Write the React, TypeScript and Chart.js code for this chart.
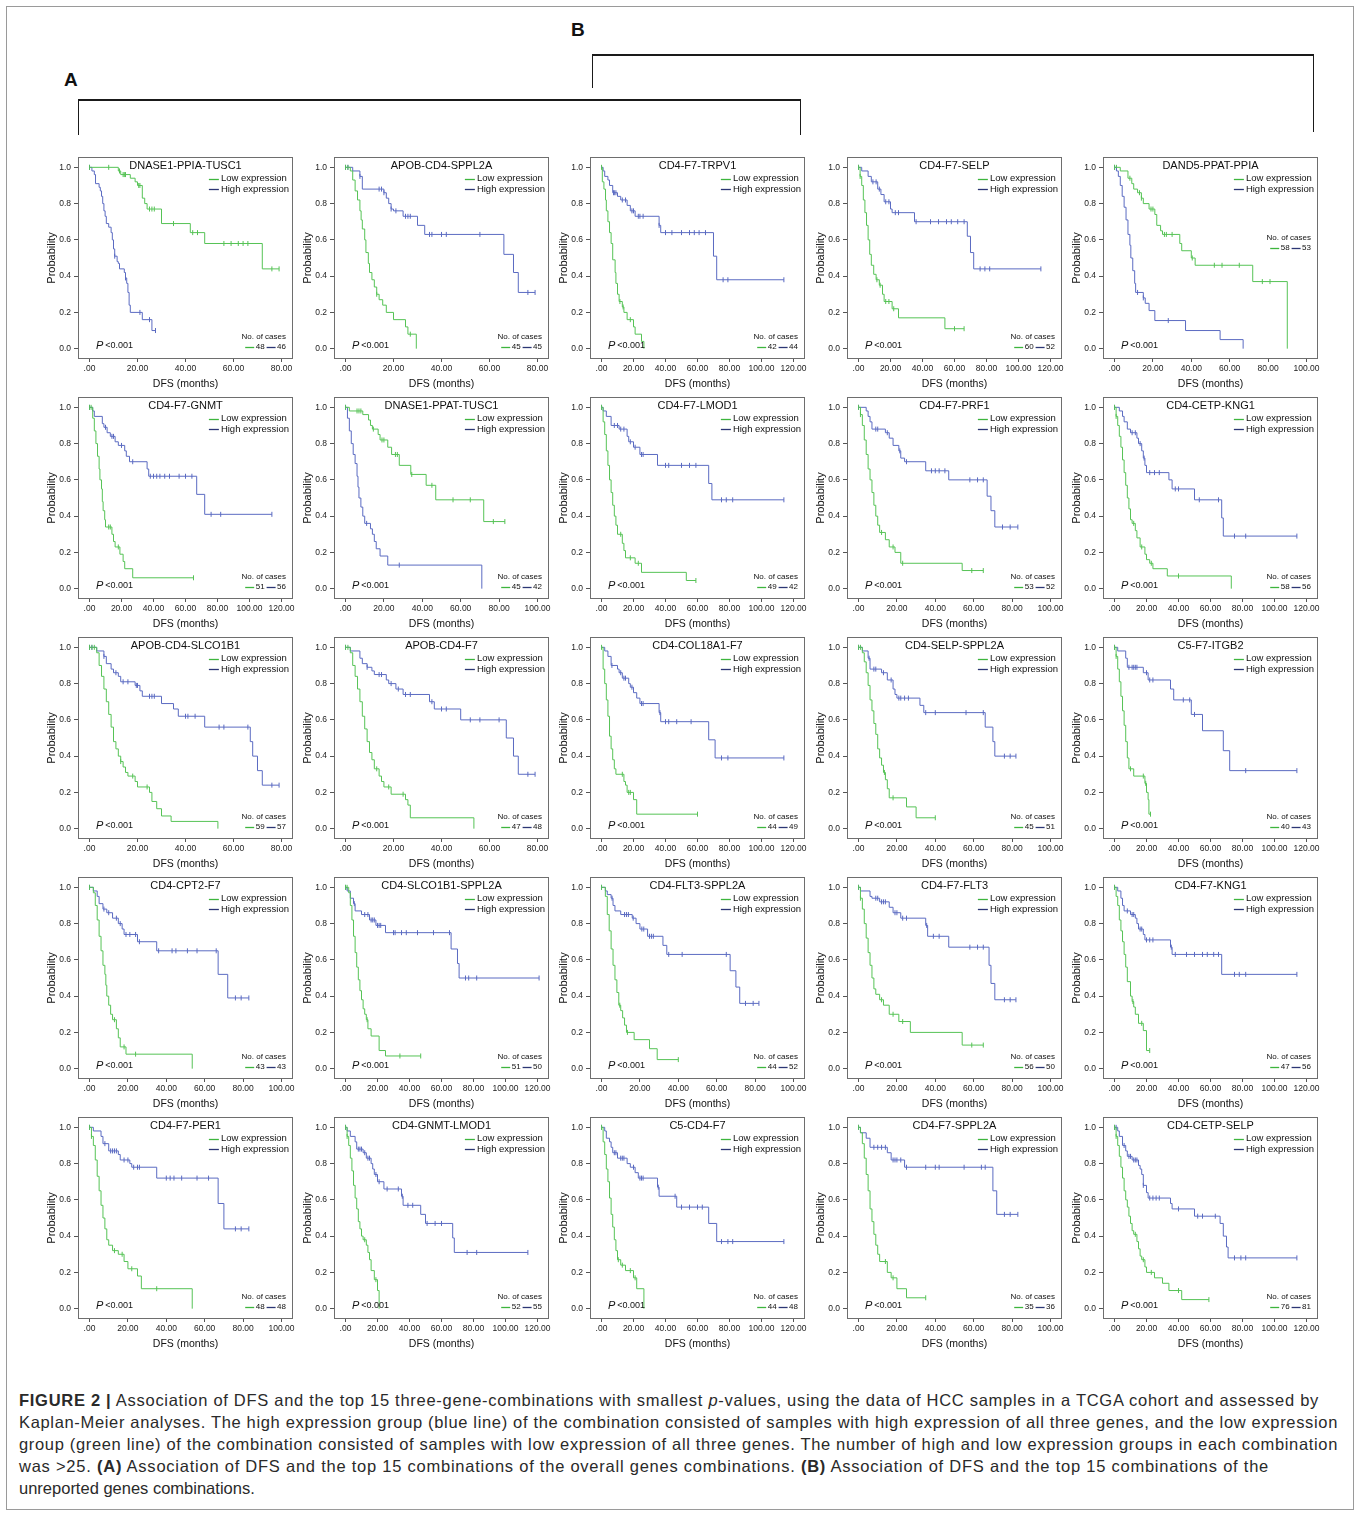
import React, { useEffect, useLayoutEffect, useRef } from 'react';
import { Chart, registerables } from 'chart.js';

Chart.register(...registerables);

const FONT = '"Liberation Sans", Arial, Helvetica, sans-serif';
const GREEN = '#56c356';
const BLUE = '#5b6bc2';
const GREEN_KEY = '#3db53d';
const BLUE_KEY = '#2c3674';

// ---------- panel meta data ----------
const titles = [
  'DNASE1-PPIA-TUSC1', 'APOB-CD4-SPPL2A', 'CD4-F7-TRPV1', 'CD4-F7-SELP', 'DAND5-PPAT-PPIA',
  'CD4-F7-GNMT', 'DNASE1-PPAT-TUSC1', 'CD4-F7-LMOD1', 'CD4-F7-PRF1', 'CD4-CETP-KNG1',
  'APOB-CD4-SLCO1B1', 'APOB-CD4-F7', 'CD4-COL18A1-F7', 'CD4-SELP-SPPL2A', 'C5-F7-ITGB2',
  'CD4-CPT2-F7', 'CD4-SLCO1B1-SPPL2A', 'CD4-FLT3-SPPL2A', 'CD4-F7-FLT3', 'CD4-F7-KNG1',
  'CD4-F7-PER1', 'CD4-GNMT-LMOD1', 'C5-CD4-F7', 'CD4-F7-SPPL2A', 'CD4-CETP-SELP',
];
const xAxisMax = [
  80, 80, 120, 120, 100,
  120, 100, 120, 100, 120,
  80, 80, 120, 100, 120,
  100, 120, 100, 100, 120,
  100, 120, 120, 100, 120,
];
const lowCases = [48, 45, 42, 60, 58, 51, 45, 49, 53, 58, 59, 47, 44, 45, 40, 43, 51, 44, 56, 47, 48, 52, 44, 35, 76];
const highCases = [46, 45, 44, 52, 53, 56, 42, 42, 52, 56, 57, 48, 49, 51, 43, 43, 50, 52, 50, 56, 48, 55, 48, 36, 81];
const casesMidPanels = [4];
const yTickValues = [0, 0.2, 0.4, 0.6, 0.8, 1.0];
const xTickStep = 20;

// ---------- survival curves: [time, survival after event], censor times ----------
const p1Low = [[12, 0.98], [13, 0.96], [17, 0.94], [19, 0.92], [20, 0.9], [22, 0.83], [23, 0.8], [24, 0.77], [30, 0.69], [42, 0.64], [48, 0.58], [72, 0.44]];
const p1LowC = [0, 8, 12.5, 14, 14.5, 15, 20.5, 21, 25, 26, 27, 35, 43, 45, 56, 59, 62, 64, 66, 76, 79];
const p1High = [[1, 0.98], [2, 0.96], [2.5, 0.91], [4, 0.89], [4.5, 0.87], [5, 0.84], [5.5, 0.8], [6, 0.76], [6.5, 0.73], [7, 0.69], [8, 0.67], [9, 0.64], [9.5, 0.6], [10, 0.55], [10.5, 0.51], [11.5, 0.48], [12, 0.47], [12.5, 0.44], [14.5, 0.42], [15, 0.39], [15.5, 0.36], [16, 0.31], [16.5, 0.24], [17, 0.2], [22, 0.16], [26, 0.1]];
const p1HighC = [0, 10.5, 15, 21, 25, 27.5];

const p2Low = [[2, 0.98], [3, 0.93], [4, 0.87], [5, 0.82], [6, 0.76], [6.5, 0.71], [7, 0.66], [8, 0.6], [8.5, 0.53], [9.5, 0.47], [10, 0.42], [11, 0.38], [12, 0.34], [13, 0.3], [14, 0.27], [15.5, 0.24], [17, 0.2], [20, 0.16], [25, 0.12], [26, 0.08], [29.5, 0]];
const p2LowC = [0, 1, 13, 27];
const p2High = [[3, 0.98], [6, 0.95], [7, 0.88], [16, 0.86], [17, 0.83], [18, 0.8], [19, 0.77], [20, 0.76], [24, 0.73], [30, 0.68], [33, 0.63], [66, 0.52], [70, 0.42], [72, 0.31]];
const p2HighC = [0, 1, 6, 14, 15, 16, 19, 21, 25, 26, 27, 35, 36, 40, 42, 56, 76, 79];

const p3Low = [[0.5, 0.92], [1.5, 0.88], [2.5, 0.82], [3, 0.76], [4, 0.7], [5, 0.64], [6, 0.58], [7, 0.49], [8.5, 0.42], [9, 0.36], [10, 0.3], [11, 0.26], [13, 0.23], [14, 0.2], [16, 0.16], [20, 0.12], [21, 0.08], [25, 0.04], [26.5, 0]];
const p3LowC = [0, 11.5, 13.5, 18];
const p3High = [[1, 0.98], [2, 0.95], [4, 0.93], [5, 0.9], [7, 0.86], [10, 0.84], [12, 0.82], [16, 0.79], [18, 0.76], [21, 0.73], [36, 0.68], [37, 0.64], [70, 0.51], [72, 0.38]];
const p3HighC = [7.5, 8, 9, 13, 15, 19, 20, 23, 24, 26, 36, 40, 44, 50, 55, 58, 61, 65, 76, 79, 114];

const p4Low = [[1, 0.95], [2, 0.9], [3, 0.82], [4, 0.75], [5, 0.68], [6, 0.6], [7, 0.52], [8, 0.46], [9.5, 0.41], [11, 0.38], [13, 0.35], [15, 0.3], [16, 0.26], [21, 0.22], [25, 0.17], [54, 0.11]];
const p4LowC = [0, 1, 11.5, 13.5, 17, 19, 22, 60, 66];
const p4High = [[2, 0.98], [6, 0.95], [8, 0.92], [12, 0.88], [14, 0.85], [16, 0.81], [20, 0.77], [21, 0.75], [35, 0.7], [68, 0.62], [70, 0.53], [72, 0.44]];
const p4HighC = [0, 9, 11, 13, 17, 19, 23, 25, 36, 45, 50, 55, 58, 62, 66, 76, 79, 82, 114];

const p5Low = [[3, 0.98], [7, 0.94], [9, 0.91], [10, 0.88], [12, 0.86], [14, 0.83], [15, 0.8], [18, 0.77], [21, 0.74], [22, 0.68], [24, 0.65], [25, 0.63], [34, 0.58], [35, 0.54], [40, 0.5], [42, 0.46], [72, 0.37], [90, 0]];
const p5LowC = [0, 1, 8, 13, 14, 19, 20, 26, 27, 30, 40.5, 52, 56, 65, 77, 81];
const p5High = [[1, 0.98], [2, 0.95], [3, 0.9], [4, 0.84], [5, 0.78], [6, 0.71], [7, 0.63], [8, 0.57], [8.5, 0.5], [9.5, 0.43], [10.5, 0.36], [11, 0.31], [15, 0.28], [16, 0.25], [18, 0.21], [21, 0.155], [37, 0.1], [55, 0.05], [67, 0]];
const p5HighC = [0, 12, 15, 28];

const p6Low = [[2, 0.94], [3, 0.87], [4, 0.8], [5, 0.73], [6, 0.66], [6.5, 0.6], [7.5, 0.55], [8, 0.48], [8.5, 0.43], [9.5, 0.38], [10, 0.34], [14, 0.3], [15, 0.26], [16, 0.23], [19, 0.19], [21, 0.15], [22, 0.11], [27, 0.06]];
const p6LowC = [0, 1, 12, 13, 18, 65];
const p6High = [[2, 0.98], [3, 0.95], [8, 0.91], [9, 0.89], [11, 0.86], [13, 0.84], [16, 0.81], [18, 0.79], [22, 0.76], [23, 0.73], [25, 0.7], [36, 0.66], [37, 0.62], [67, 0.52], [72, 0.41]];
const p6HighC = [0, 10, 14, 15, 20, 27, 38, 40, 42, 44, 47, 50, 56, 60, 64, 76, 82, 114];

const p7Low = [[2, 0.98], [9, 0.96], [12, 0.93], [13, 0.9], [14, 0.88], [17, 0.85], [18, 0.82], [22, 0.78], [24, 0.74], [28, 0.68], [34, 0.63], [42, 0.57], [47, 0.49], [72, 0.37]];
const p7LowC = [0, 6, 7, 8, 14.5, 19, 20, 26, 27, 34.5, 45, 56, 65, 77, 83];
const p7High = [[1, 0.94], [2, 0.87], [3, 0.8], [4, 0.74], [5, 0.69], [6, 0.62], [6.5, 0.56], [7, 0.5], [8, 0.45], [9, 0.4], [10, 0.36], [13, 0.33], [14, 0.3], [15, 0.26], [16, 0.22], [18, 0.18], [22, 0.13], [71, 0]];
const p7HighC = [0, 11, 28];

const p8Low = [[1, 0.92], [2, 0.85], [3, 0.76], [4, 0.68], [5, 0.6], [6, 0.53], [7, 0.46], [8, 0.4], [9, 0.35], [10, 0.3], [13, 0.25], [14, 0.21], [15, 0.17], [21, 0.14], [25, 0.09], [53, 0.045]];
const p8LowC = [0, 12, 18, 23, 59];
const p8High = [[1, 0.98], [3, 0.95], [6, 0.9], [11, 0.88], [16, 0.84], [17, 0.81], [20, 0.78], [24, 0.74], [35, 0.68], [67, 0.58], [69, 0.49]];
const p8HighC = [0, 8, 10, 12, 14, 18, 21, 25, 26, 40, 42, 50, 55, 59, 75, 78, 82, 114];

const p9Low = [[1, 0.96], [2, 0.9], [3, 0.82], [4, 0.74], [5, 0.66], [6, 0.6], [7, 0.53], [8, 0.46], [9, 0.4], [10, 0.35], [11, 0.31], [14, 0.27], [16, 0.23], [19, 0.2], [22, 0.14], [54, 0.1]];
const p9LowC = [0, 1, 12, 18, 23, 59, 65];
const p9High = [[4, 0.98], [5, 0.95], [6, 0.92], [7, 0.88], [14, 0.86], [16, 0.83], [18, 0.79], [21, 0.76], [22, 0.72], [24, 0.7], [35, 0.65], [47, 0.6], [67, 0.51], [69, 0.43], [71, 0.34]];
const p9HighC = [0, 9, 10, 15, 21.5, 25, 38, 40, 42, 45, 58, 62, 65, 75, 79, 83];

const p10Low = [[1, 0.95], [2, 0.9], [3, 0.84], [4, 0.78], [5, 0.71], [6, 0.64], [7, 0.57], [8, 0.5], [9, 0.44], [10, 0.38], [11, 0.36], [13, 0.32], [14, 0.28], [16, 0.23], [19, 0.19], [20, 0.16], [22, 0.14], [24, 0.11], [33, 0.07], [73, 0]];
const p10LowC = [0, 1, 12, 17, 23, 40];
const p10High = [[3, 0.98], [5, 0.95], [6, 0.92], [8, 0.88], [10, 0.86], [14, 0.83], [15, 0.8], [17, 0.76], [18, 0.72], [19, 0.68], [20, 0.64], [34, 0.6], [36, 0.55], [50, 0.49], [67, 0.39], [68, 0.29]];
const p10HighC = [0, 11, 13, 16, 18.5, 22, 25, 28, 38, 40, 53, 65, 75, 82, 114];

const p11Low = [[3, 0.97], [4, 0.9], [5, 0.84], [6, 0.77], [7, 0.7], [8, 0.63], [9, 0.56], [10, 0.48], [11, 0.44], [12, 0.4], [13, 0.37], [14, 0.34], [15, 0.31], [16, 0.29], [19, 0.26], [20, 0.23], [25, 0.2], [26, 0.15], [28, 0.11], [30, 0.07], [34, 0.04], [53.5, 0]];
const p11LowC = [0, 1, 2, 13, 18, 24];
const p11High = [[3, 0.98], [6, 0.95], [7, 0.91], [9, 0.88], [10, 0.86], [12, 0.84], [13, 0.81], [19, 0.79], [21, 0.76], [22, 0.73], [30, 0.69], [35, 0.66], [37, 0.62], [48, 0.56], [67, 0.48], [68, 0.4], [70, 0.32], [72, 0.24]];
const p11HighC = [0, 1, 6, 11, 14, 16, 19.5, 20, 25, 26, 27, 40, 41, 44, 54, 56, 66, 76, 79];

const p12Low = [[2, 0.97], [3, 0.9], [4, 0.84], [5, 0.77], [6, 0.7], [7, 0.62], [8, 0.55], [9, 0.48], [10, 0.42], [11, 0.38], [12, 0.33], [14, 0.29], [15, 0.26], [16, 0.23], [19, 0.19], [25, 0.16], [26, 0.13], [27, 0.06], [53.5, 0]];
const p12LowC = [0, 1, 13, 18, 24];
const p12High = [[2, 0.98], [6, 0.94], [7, 0.91], [9, 0.89], [11, 0.87], [12, 0.85], [17, 0.82], [18, 0.8], [21, 0.77], [24, 0.74], [35, 0.7], [37, 0.66], [48, 0.6], [67, 0.5], [70, 0.4], [72, 0.3]];
const p12HighC = [0, 9, 14, 15, 19, 22, 25, 27, 36, 40, 42, 52, 56, 64, 76, 79];

const p13Low = [[1, 0.88], [2, 0.8], [3, 0.71], [4, 0.62], [5, 0.51], [6, 0.44], [7, 0.38], [8, 0.33], [9, 0.3], [14, 0.26], [15, 0.24], [16, 0.2], [20, 0.16], [22, 0.08]];
const p13LowC = [0, 13, 17, 18, 60];
const p13High = [[2, 0.98], [4, 0.95], [6, 0.9], [10, 0.88], [11, 0.86], [13, 0.83], [17, 0.8], [18, 0.78], [20, 0.75], [22, 0.72], [24, 0.69], [36, 0.64], [37, 0.59], [67, 0.49], [71, 0.39]];
const p13HighC = [6.5, 12, 14, 15, 19, 25, 26, 36.5, 40, 42, 47, 56, 75, 79, 114];

const p14Low = [[2, 0.97], [3, 0.92], [4, 0.86], [5, 0.79], [6, 0.71], [7, 0.65], [8, 0.58], [9, 0.52], [10, 0.44], [11, 0.39], [12, 0.35], [13, 0.31], [14, 0.27], [15, 0.22], [16, 0.17], [25, 0.12], [30, 0.06]];
const p14LowC = [0, 1, 13.5, 18, 40];
const p14High = [[2, 0.98], [5, 0.94], [6, 0.88], [12, 0.86], [15, 0.82], [18, 0.77], [19, 0.74], [20, 0.72], [32, 0.68], [34, 0.64], [66, 0.56], [70, 0.48], [71, 0.4]];
const p14HighC = [0, 5.5, 8, 9, 13, 17, 21, 22, 24, 26, 35, 40, 56, 65, 76, 79, 82];

const p15Low = [[1, 0.95], [2, 0.88], [3, 0.81], [4, 0.73], [5, 0.65], [6, 0.57], [7, 0.48], [8, 0.39], [9, 0.33], [12, 0.29], [19, 0.25], [20, 0.2], [21, 0.16], [21.5, 0.08]];
const p15LowC = [0, 1, 10, 18, 19.5, 22.5];
const p15High = [[2, 0.98], [7, 0.94], [8, 0.89], [18, 0.86], [21, 0.82], [35, 0.77], [37, 0.71], [48, 0.63], [55, 0.54], [68, 0.43], [72, 0.32]];
const p15HighC = [0, 9, 11, 12, 13, 14, 20, 22, 24, 43, 47, 50, 82, 114];

const p16Low = [[2, 0.97], [3, 0.9], [4, 0.82], [5, 0.73], [6, 0.65], [7, 0.57], [8, 0.52], [8.5, 0.46], [9, 0.4], [10, 0.35], [11, 0.3], [12, 0.27], [14, 0.22], [15, 0.17], [16, 0.12], [19, 0.08], [53.5, 0]];
const p16LowC = [0, 13, 18, 24];
const p16High = [[2, 0.98], [4, 0.95], [5, 0.91], [7, 0.88], [9, 0.86], [12, 0.83], [15, 0.8], [17, 0.77], [18, 0.74], [25, 0.7], [35, 0.65], [67, 0.52], [72, 0.39]];
const p16HighC = [0, 7.5, 10, 14, 16, 19, 21, 24, 26, 36, 43, 45, 51, 56, 66, 76, 79, 83];

const p17Low = [[2, 0.97], [3, 0.9], [4, 0.82], [5, 0.73], [6, 0.64], [7, 0.56], [8, 0.49], [9, 0.43], [10, 0.38], [11, 0.33], [12, 0.3], [13, 0.27], [14, 0.22], [16, 0.18], [21, 0.1], [25, 0.07]];
const p17LowC = [0, 1, 13.5, 34, 47];
const p17High = [[1, 0.98], [3, 0.94], [5, 0.91], [6, 0.87], [10, 0.85], [15, 0.82], [19, 0.79], [25, 0.75], [66, 0.66], [70, 0.58], [71, 0.5]];
const p17HighC = [0, 5.5, 12, 14, 16, 17, 18, 20, 21, 22, 30, 31, 35, 38, 45, 55, 65, 75, 77, 82, 121];

const p18Low = [[2, 0.95], [3, 0.85], [4, 0.76], [5, 0.66], [6, 0.57], [7, 0.49], [8, 0.42], [9, 0.35], [10, 0.32], [11, 0.28], [12, 0.24], [13, 0.2], [17, 0.16], [25, 0.11], [29, 0.05]];
const p18LowC = [0, 9.5, 13.5, 40];
const p18High = [[2, 0.98], [3, 0.96], [5, 0.94], [6, 0.9], [7, 0.87], [10, 0.85], [16, 0.83], [18, 0.8], [20, 0.77], [24, 0.73], [32, 0.68], [34, 0.63], [67, 0.54], [70, 0.45], [72, 0.36]];
const p18HighC = [0, 5.5, 12, 13, 14, 16.5, 21, 22, 25, 26, 27, 35, 42, 65, 75, 79, 82];

const p19Low = [[1, 0.94], [2, 0.88], [3, 0.8], [4, 0.72], [5, 0.64], [6, 0.57], [7, 0.5], [8, 0.44], [9, 0.41], [11, 0.38], [13, 0.35], [16, 0.3], [21, 0.26], [27, 0.2], [54, 0.13]];
const p19LowC = [0, 1, 12, 18, 23, 59, 65];
const p19High = [[1, 0.98], [6, 0.95], [7, 0.94], [11, 0.92], [16, 0.89], [18, 0.86], [22, 0.83], [35, 0.79], [36, 0.73], [47, 0.67], [68, 0.57], [69, 0.47], [71, 0.38]];
const p19HighC = [0, 9, 10, 12, 13, 14, 19, 20, 23, 25, 35.5, 39, 42, 58, 62, 65, 76, 79, 82];

const p20Low = [[1, 0.95], [2, 0.9], [3, 0.82], [4, 0.76], [5, 0.7], [6, 0.63], [7, 0.56], [8, 0.48], [10, 0.4], [11, 0.37], [12, 0.34], [13, 0.3], [15, 0.25], [18, 0.21], [20, 0.1]];
const p20LowC = [0, 11.5, 17, 22];
const p20High = [[2, 0.98], [4, 0.94], [5, 0.9], [6, 0.87], [10, 0.85], [13, 0.83], [14, 0.8], [15, 0.77], [18, 0.74], [19, 0.71], [35, 0.67], [36, 0.63], [67, 0.52]];
const p20HighC = [0, 8, 11, 12, 16, 17, 20, 22, 24, 35.5, 38, 45, 50, 55, 58, 62, 65, 75, 78, 82, 114];

const p21Low = [[1, 0.95], [2, 0.9], [3, 0.82], [4, 0.73], [5, 0.65], [6, 0.57], [7, 0.5], [8, 0.44], [9, 0.38], [10, 0.35], [12, 0.32], [15, 0.3], [18, 0.26], [20, 0.22], [25, 0.18], [27, 0.11], [53.5, 0]];
const p21LowC = [0, 1, 13, 17, 22, 35];
const p21High = [[2, 0.98], [6, 0.95], [7, 0.91], [10, 0.87], [15, 0.85], [16, 0.82], [21, 0.8], [22, 0.78], [35, 0.72], [67, 0.58], [70, 0.44]];
const p21HighC = [0, 8, 11, 12, 13, 14, 18, 20, 23, 25, 26, 40, 42, 44, 48, 56, 62, 76, 79, 83];

const p22Low = [[1, 0.95], [2, 0.9], [3, 0.83], [4, 0.76], [5, 0.68], [6, 0.61], [7, 0.55], [8, 0.48], [9, 0.44], [10, 0.4], [11, 0.38], [13, 0.35], [14, 0.31], [15, 0.27], [16, 0.21], [18, 0.16], [20, 0.1], [21, 0]];
const p22LowC = [0, 1, 12, 19];
const p22High = [[1, 0.98], [3, 0.95], [6, 0.92], [7, 0.88], [11, 0.86], [13, 0.83], [16, 0.8], [17, 0.77], [18, 0.74], [20, 0.7], [24, 0.66], [35, 0.62], [36, 0.57], [47, 0.52], [50, 0.47], [67, 0.39], [68, 0.31]];
const p22HighC = [0, 8, 9, 10, 12, 14, 15, 19, 21, 26, 33, 35.5, 39, 42, 51, 56, 60, 76, 82, 114];

const p23Low = [[1, 0.92], [2, 0.85], [3, 0.77], [4, 0.7], [5, 0.61], [6, 0.52], [7, 0.45], [8, 0.38], [9, 0.32], [10, 0.27], [12, 0.24], [15, 0.21], [20, 0.17], [22, 0.11], [26.5, 0]];
const p23LowC = [0, 10.5, 13, 18, 21];
const p23High = [[2, 0.98], [3, 0.94], [5, 0.92], [6, 0.89], [7, 0.86], [10, 0.83], [16, 0.8], [18, 0.78], [21, 0.75], [23, 0.72], [35, 0.67], [36, 0.62], [47, 0.56], [67, 0.47], [72, 0.37]];
const p23HighC = [0, 8, 9, 12, 13, 14, 20, 24, 25, 26, 35.5, 46, 50, 55, 60, 63, 75, 79, 82, 114];

const p24Low = [[1, 0.97], [2, 0.91], [3, 0.83], [4, 0.74], [5, 0.65], [6, 0.55], [7, 0.48], [8, 0.41], [9, 0.35], [10, 0.3], [11, 0.26], [15, 0.2], [17, 0.17], [20, 0.11], [25, 0.06]];
const p24LowC = [0, 14, 18, 35];
const p24High = [[1, 0.97], [4, 0.94], [6, 0.89], [15, 0.86], [17, 0.82], [24, 0.78], [70, 0.65], [72, 0.52]];
const p24HighC = [0, 8, 10, 12, 14, 18, 19, 20, 22, 25, 35, 40, 42, 55, 64, 66, 76, 79, 83];

const p25Low = [[1, 0.95], [2, 0.9], [3, 0.84], [4, 0.78], [5, 0.72], [6, 0.65], [7, 0.6], [8, 0.56], [9, 0.51], [10, 0.47], [11, 0.43], [12, 0.41], [14, 0.37], [15, 0.33], [16, 0.29], [17, 0.27], [19, 0.23], [20, 0.2], [25, 0.17], [30, 0.14], [34, 0.1], [42, 0.05]];
const p25LowC = [0, 1, 13, 18, 23, 40, 59];
const p25High = [[2, 0.98], [3, 0.95], [5, 0.9], [7, 0.87], [8, 0.84], [11, 0.82], [15, 0.79], [16, 0.77], [17, 0.74], [18, 0.68], [20, 0.64], [21, 0.61], [35, 0.58], [36, 0.55], [50, 0.51], [66, 0.47], [68, 0.4], [70, 0.34], [71, 0.28]];
const p25HighC = [0, 1, 6, 9, 10, 12, 13, 14, 18, 22, 24, 26, 28, 40, 52, 55, 63, 75, 79, 82, 114];

const lowSteps = [p1Low, p2Low, p3Low, p4Low, p5Low, p6Low, p7Low, p8Low, p9Low, p10Low, p11Low, p12Low, p13Low, p14Low, p15Low, p16Low, p17Low, p18Low, p19Low, p20Low, p21Low, p22Low, p23Low, p24Low, p25Low];
const lowCensored = [p1LowC, p2LowC, p3LowC, p4LowC, p5LowC, p6LowC, p7LowC, p8LowC, p9LowC, p10LowC, p11LowC, p12LowC, p13LowC, p14LowC, p15LowC, p16LowC, p17LowC, p18LowC, p19LowC, p20LowC, p21LowC, p22LowC, p23LowC, p24LowC, p25LowC];
const highSteps = [p1High, p2High, p3High, p4High, p5High, p6High, p7High, p8High, p9High, p10High, p11High, p12High, p13High, p14High, p15High, p16High, p17High, p18High, p19High, p20High, p21High, p22High, p23High, p24High, p25High];
const highCensored = [p1HighC, p2HighC, p3HighC, p4HighC, p5HighC, p6HighC, p7HighC, p8HighC, p9HighC, p10HighC, p11HighC, p12HighC, p13HighC, p14HighC, p15HighC, p16HighC, p17HighC, p18HighC, p19HighC, p20HighC, p21HighC, p22HighC, p23HighC, p24HighC, p25HighC];

// ---------- layout ----------
const BOX_LEFT = [78, 334, 590, 847, 1103];
const BOX_TOP = [157, 397, 637, 877, 1117];
const BOX_W = 215;
const BOX_H = 202;
const PAD_L = 10;
const Y_AXIS_W = 46;
const PAD_R = 8;
const PAD_T = 2;
const X_AXIS_H = 16;
const PAD_B = 16;
const CW = PAD_L + Y_AXIS_W + BOX_W + PAD_R;
const CH = PAD_T + BOX_H + X_AXIS_H + PAD_B;

function survivalAt(steps: number[][], t: number) {
  let s = 1;
  for (const [tt, ss] of steps) if (tt <= t) s = ss;
  return s;
}
function curvePoints(steps: number[][], cens: number[]) {
  const pts = [{ x: 0, y: 1 }];
  steps.forEach(([t, s]) => pts.push({ x: t, y: s }));
  const lastT = steps.length ? steps[steps.length - 1][0] : 0;
  const lastC = cens.length ? Math.max(...cens) : 0;
  if (lastC > lastT) pts.push({ x: lastC, y: survivalAt(steps, lastC) });
  return pts;
}
function censorPoints(steps: number[][], cens: number[]) {
  return cens.map((t) => ({ x: t, y: survivalAt(steps, t) }));
}

function makeConfig(i: number): any {
  const xmax = xAxisMax[i];
  const xTicks: number[] = [];
  for (let v = 0; v <= xmax; v += xTickStep) xTicks.push(v);
  const mid = casesMidPanels.includes(i);

  const overlay = {
    id: 'kmOverlay',
    afterDraw(chart: any) {
      const { ctx, chartArea: a } = chart;
      ctx.save();
      // frame
      ctx.strokeStyle = '#6e6e6e';
      ctx.lineWidth = 1;
      ctx.strokeRect(Math.round(a.left) + 0.5, Math.round(a.top) + 0.5, Math.round(a.right - a.left) - 1, Math.round(a.bottom - a.top) - 1);
      const cx = (a.left + a.right) / 2;
      // title
      ctx.fillStyle = '#111';
      ctx.font = `11px ${FONT}`;
      ctx.textAlign = 'center';
      ctx.textBaseline = 'middle';
      ctx.fillText(titles[i], cx, a.top + 8.5);
      // legend
      ctx.font = `9.5px ${FONT}`;
      const hw = ctx.measureText('High expression').width;
      const tx = a.right - 4 - hw;
      const keys = [
        { label: 'Low expression', color: GREEN_KEY, y: a.top + 21.5 },
        { label: 'High expression', color: BLUE_KEY, y: a.top + 32 },
      ];
      keys.forEach((k) => {
        ctx.strokeStyle = k.color;
        ctx.lineWidth = 1.3;
        ctx.beginPath();
        ctx.moveTo(tx - 12, Math.round(k.y) + 0.5);
        ctx.lineTo(tx - 2, Math.round(k.y) + 0.5);
        ctx.stroke();
        ctx.textAlign = 'left';
        ctx.fillText(k.label, tx, k.y);
      });
      // p value
      const py = a.bottom - 13;
      ctx.font = `italic 11px ${FONT}`;
      ctx.textAlign = 'left';
      ctx.fillText('P', a.left + 18, py);
      const pw = ctx.measureText('P').width;
      ctx.font = `9px ${FONT}`;
      ctx.fillText('<0.001', a.left + 18 + pw + 2, py);
      // number of cases
      const y0 = mid ? a.top + 81 : a.bottom - 22;
      ctx.font = `8px ${FONT}`;
      ctx.textAlign = 'right';
      ctx.fillText('No. of cases', a.right - 7, y0);
      let x = a.right - 7;
      const y1 = y0 + 10;
      const hs = String(highCases[i]);
      const ls = String(lowCases[i]);
      ctx.fillText(hs, x, y1);
      x -= ctx.measureText(hs).width + 1.5;
      ctx.strokeStyle = BLUE_KEY;
      ctx.lineWidth = 1.3;
      ctx.beginPath();
      ctx.moveTo(x - 9, Math.round(y1) + 0.5);
      ctx.lineTo(x, Math.round(y1) + 0.5);
      ctx.stroke();
      x -= 11;
      ctx.fillText(ls, x, y1);
      x -= ctx.measureText(ls).width + 1.5;
      ctx.strokeStyle = GREEN_KEY;
      ctx.beginPath();
      ctx.moveTo(x - 9, Math.round(y1) + 0.5);
      ctx.lineTo(x, Math.round(y1) + 0.5);
      ctx.stroke();
      // axis titles
      ctx.fillStyle = '#111';
      ctx.font = `10.5px ${FONT}`;
      ctx.textAlign = 'center';
      ctx.fillText('DFS (months)', cx, a.bottom + 25);
      ctx.translate(a.left - 26, (a.top + a.bottom) / 2);
      ctx.rotate(-Math.PI / 2);
      ctx.font = `11px ${FONT}`;
      ctx.fillText('Probability', 0, 0);
      ctx.restore();
    },
  };

  const lineDs = (steps: number[][], cens: number[], color: string) => ({
    data: curvePoints(steps, cens),
    showLine: true,
    stepped: 'before',
    borderColor: color,
    borderWidth: 1,
    pointRadius: 0,
    pointHoverRadius: 0,
    fill: false,
  });
  const censDs = (steps: number[][], cens: number[], color: string) => ({
    data: censorPoints(steps, cens),
    showLine: false,
    pointStyle: 'line',
    pointRotation: 90,
    pointRadius: 2.5,
    pointHoverRadius: 2.5,
    pointBorderWidth: 1,
    pointBorderColor: color,
    pointBackgroundColor: color,
    borderColor: color,
  });

  const tickFont = { family: FONT, size: 8.5 };
  return {
    type: 'scatter',
    data: {
      datasets: [
        lineDs(lowSteps[i], lowCensored[i], GREEN),
        lineDs(highSteps[i], highCensored[i], BLUE),
        censDs(lowSteps[i], lowCensored[i], GREEN),
        censDs(highSteps[i], highCensored[i], BLUE),
      ],
    },
    options: {
      animation: false,
      responsive: false,
      devicePixelRatio: 1,
      events: [],
      layout: { autoPadding: false, padding: { left: PAD_L, top: PAD_T, right: PAD_R, bottom: PAD_B } },
      plugins: { legend: { display: false }, tooltip: { enabled: false }, title: { display: false } },
      scales: {
        x: {
          type: 'linear',
          min: -0.06 * xmax,
          max: 1.06 * xmax,
          afterBuildTicks: (s: any) => {
            s.ticks = xTicks.map((v) => ({ value: v }));
          },
          afterFit: (s: any) => {
            s.height = X_AXIS_H;
            s.paddingLeft = 0;
            s.paddingRight = 0;
            s.paddingTop = 0;
            s.paddingBottom = 0;
          },
          ticks: {
            autoSkip: false,
            maxRotation: 0,
            padding: 2,
            font: tickFont,
            color: '#222',
            callback: (v: number) => (v === 0 ? '.00' : Number(v).toFixed(2)),
          },
          grid: { drawOnChartArea: false, drawTicks: true, tickLength: 3, color: '#555' },
          border: { display: false },
        },
        y: {
          type: 'linear',
          min: -0.057,
          max: 1.057,
          afterBuildTicks: (s: any) => {
            s.ticks = yTickValues.map((v) => ({ value: v }));
          },
          afterFit: (s: any) => {
            s.width = Y_AXIS_W;
            s.paddingLeft = 0;
            s.paddingRight = 0;
            s.paddingTop = 0;
            s.paddingBottom = 0;
          },
          ticks: {
            padding: 3,
            font: tickFont,
            color: '#222',
            callback: (v: number) => Number(v).toFixed(1),
          },
          grid: { drawOnChartArea: false, drawTicks: true, tickLength: 4, color: '#555' },
          border: { display: false },
        },
      },
    },
    plugins: [overlay],
  };
}

function KMPanel({ index }: { index: number }) {
  const ref = useRef<HTMLCanvasElement>(null);
  useEffect(() => {
    const chart = new Chart(ref.current as HTMLCanvasElement, makeConfig(index));
    return () => chart.destroy();
  }, [index]);
  const col = index % 5;
  const row = Math.floor(index / 5);
  return (
    <canvas
      ref={ref}
      width={CW}
      height={CH}
      style={{
        position: 'absolute',
        left: BOX_LEFT[col] - PAD_L - Y_AXIS_W,
        top: BOX_TOP[row] - PAD_T,
        width: CW,
        height: CH,
      }}
    />
  );
}

function CaptionLine({ top, target, children }: { top: number; target: number | null; children: React.ReactNode }) {
  const ref = useRef<HTMLDivElement>(null);
  useLayoutEffect(() => {
    const el = ref.current;
    if (!el || target == null) return;
    el.style.letterSpacing = '0px';
    const natural = el.getBoundingClientRect().width;
    const n = (el.textContent || '').length;
    if (n > 1) el.style.letterSpacing = `${(target - natural) / n}px`;
  }, [target]);
  return (
    <div
      ref={ref}
      style={{
        position: 'absolute',
        left: 19,
        top,
        fontFamily: FONT,
        fontSize: 16.5,
        lineHeight: '22px',
        color: '#2a2a2a',
        whiteSpace: 'nowrap',
      }}
    >
      {children}
    </div>
  );
}

export default function App() {
  const bar = (l: number, t: number, w: number, h: number) => (
    <div style={{ position: 'absolute', left: l, top: t, width: w, height: h, background: '#1a1a1a' }} />
  );
  return (
    <div style={{ position: 'absolute', left: 0, top: 0, width: 1360, height: 1515, background: '#fff', overflow: 'hidden' }}>
      <div style={{ position: 'absolute', left: 6, top: 6, width: 1348, height: 1504, border: '1px solid #9a9a9a', boxSizing: 'border-box' }} />
      <div style={{ position: 'absolute', left: 64, top: 69, fontFamily: FONT, fontWeight: 'bold', fontSize: 19, lineHeight: '22px', color: '#111' }}>A</div>
      <div style={{ position: 'absolute', left: 571, top: 19, fontFamily: FONT, fontWeight: 'bold', fontSize: 19, lineHeight: '22px', color: '#111' }}>B</div>
      {bar(78, 99, 723, 2)}
      {bar(78, 100, 1, 35)}
      {bar(800, 100, 1, 35)}
      {bar(592, 54, 722, 2)}
      {bar(592, 55, 1, 33)}
      {bar(1313, 55, 1, 77)}
      {titles.map((_, i) => (
        <KMPanel key={i} index={i} />
      ))}
      <CaptionLine top={1389} target={1300}>
        <b>FIGURE 2 |</b> Association of DFS and the top 15 three-gene-combinations with smallest <i>p</i>-values, using the data of HCC samples in a TCGA cohort and assessed by
      </CaptionLine>
      <CaptionLine top={1411} target={1319}>
        Kaplan-Meier analyses. The high expression group (blue line) of the combination consisted of samples with high expression of all three genes, and the low expression
      </CaptionLine>
      <CaptionLine top={1433} target={1319}>
        group (green line) of the combination consisted of samples with low expression of all three genes. The number of high and low expression groups in each combination
      </CaptionLine>
      <CaptionLine top={1455} target={1250}>
        was &gt;25. <b>(A)</b> Association of DFS and the top 15 combinations of the overall genes combinations. <b>(B)</b> Association of DFS and the top 15 combinations of the
      </CaptionLine>
      <CaptionLine top={1477} target={null}>
        unreported genes combinations.
      </CaptionLine>
    </div>
  );
}
